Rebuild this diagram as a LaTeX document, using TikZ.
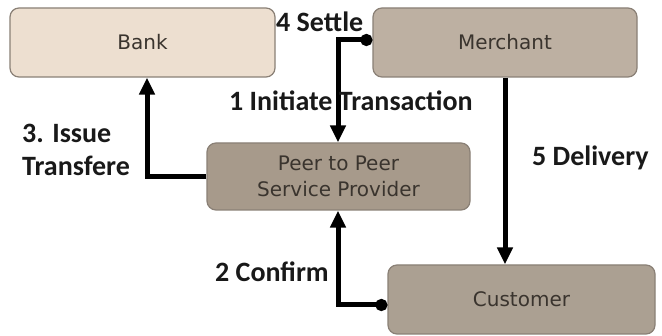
\documentclass[tikz,border=0pt]{standalone}
\usepackage{fontspec}
\setmainfont{Carlito}
\newfontfamily\boxfont{DejaVu Sans}
\usetikzlibrary{arrows.meta}
\definecolor{bankfill}{HTML}{EDDFD0}
\definecolor{merchfill}{HTML}{BDB0A2}
\definecolor{p2pfill}{HTML}{A79A8B}
\definecolor{custfill}{HTML}{ABA092}
\definecolor{boxline}{HTML}{8A8076}
\definecolor{boxtext}{HTML}{3A342E}
\begin{document}
\begin{tikzpicture}[x=1pt,y=-1pt,
  box/.style={draw=boxline,line width=1.2pt,rounded corners=9pt,
    inner sep=0pt,font=\boxfont\fontsize{20}{26}\selectfont,text=boxtext,align=center},
  flow/.style={line width=5pt,-{Triangle[length=17pt,width=15pt]}},
  twoway/.style={line width=5pt,{Triangle[length=17pt,width=15pt]}-{Circle[length=12pt]}},
  lbl/.style={font=\bfseries\fontsize{28}{33}\selectfont,text=black!90,inner sep=0pt,align=left}]
  \fill[white] (0,0) rectangle (662,336);
  \useasboundingbox (0,0) rectangle (662,336);

  % boxes
  \node[box,fill=bankfill,minimum width=265pt,minimum height=69pt] (bank) at (142.5,42.5) {Bank};
  \node[box,fill=merchfill,minimum width=264pt,minimum height=69pt] (merch) at (505,42.5) {Merchant};
  \node[box,fill=p2pfill,minimum width=263pt,minimum height=67pt] (p2p) at (338.5,176.5) {Peer to Peer\\Service Provider};
  \node[box,fill=custfill,minimum width=267pt,minimum height=69pt] (cust) at (521.5,299.5) {Customer};

  % helper points
  \coordinate (topbend) at (338,40);
  \coordinate (botbend) at (338,305);
  \coordinate (leftbend) at (147,176.5);

  % connectors
  \draw[twoway] (p2p.north -| topbend) -- (topbend) -- (topbend -| merch.west);
  \draw[twoway] (p2p.south -| botbend) -- (botbend) -- (botbend -| cust.west);
  \draw[flow] (p2p.west) -- (leftbend) -- (leftbend |- bank.south);
  \draw[flow] (merch.south) -- (merch.south |- cust.north);

  % labels
  \node[lbl,anchor=west] (l4) at (276,22) {4 Settle};
  \node[lbl,anchor=west] (l1) at (229,101) {1 Initiate Transaction};
  \node[lbl,anchor=west] (l3) at (22,150) {3. Issue\\Transfere};
  \node[lbl,anchor=west] (l5) at (532,158) {5 Delivery};
  \node[lbl,anchor=west] (l2) at (215,272) {2 Confirm};
\end{tikzpicture}
\end{document}
